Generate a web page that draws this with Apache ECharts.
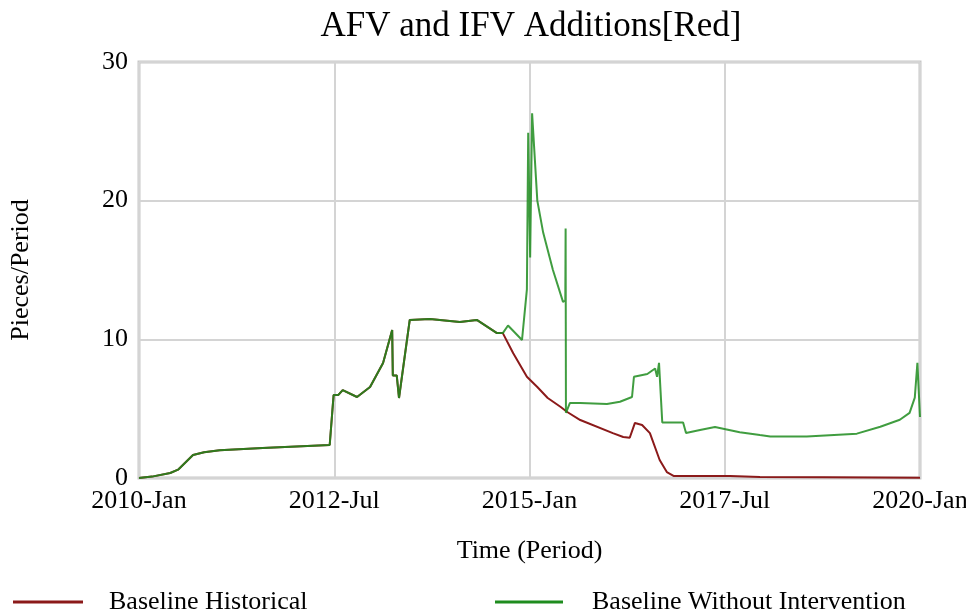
<!DOCTYPE html>
<html>
<head>
<meta charset="utf-8">
<script src="https://cdn.jsdelivr.net/npm/echarts@6/dist/echarts.min.js"></script>
<style>
  html, body { margin: 0; padding: 0; background: #fff; }
  #chart { width: 966px; height: 612px; }
</style>
</head>
<body>
<div id="chart"></div>
<script>
// months since 2010-Jan
var xTickLabels = ['2010-Jan', '2012-Jul', '2015-Jan', '2017-Jul', '2020-Jan'];

// part both runs share (until late 2014)
var sharedMonths = [0, 2, 4.8, 6, 8.3, 10, 12.4, 19, 29.3, 29.9, 30.6, 31.3, 33.5, 35.5, 37.5, 38.9, 39.0, 39.6, 39.95, 41.6, 44.7, 49.3, 51.9, 55.0, 55.9];
var sharedValues = [0, 0.1, 0.36, 0.6, 1.66, 1.85, 2.0, 2.16, 2.38, 5.98, 5.98, 6.34, 5.84, 6.56, 8.3, 10.67, 7.4, 7.4, 5.77, 11.4, 11.46, 11.25, 11.4, 10.45, 10.45];

// Baseline Historical after the split
var historicalMonths = [57.5, 59.6, 61.2, 62.8, 64.8, 65.8, 67.8, 72.8, 74.4, 75.4, 76.2, 77.3, 78.5, 80.0, 81.1, 82.2, 90.8, 95.4, 105, 120];
var historicalValues = [9.0, 7.3, 6.56, 5.77, 5.12, 4.76, 4.18, 3.24, 2.96, 2.9, 3.97, 3.82, 3.24, 1.3, 0.43, 0.14, 0.14, 0.07, 0.05, 0.02];

// Baseline Without Intervention after the split
var withoutMonths = [56.7, 58.85, 59.6, 59.8, 60.1, 60.4, 61.2, 62.1, 63.6, 65.15, 65.5, 65.55, 65.6, 66.2, 67.8, 71.9, 73.9, 75.75, 76.05, 78.1, 79.3, 79.6, 79.9, 80.4, 81.1, 83.6, 84.05, 86.2, 88.5, 90.3, 92.3, 95.4, 97, 102.6, 110.3, 113.9, 116.9, 118.4, 119.2, 119.6, 120];
var withoutValues = [11.0, 9.95, 13.6, 24.9, 15.9, 26.3, 20, 17.7, 15, 12.7, 12.8, 18.0, 4.7, 5.4, 5.4, 5.34, 5.5, 5.84, 7.3, 7.5, 7.9, 7.3, 8.3, 4.0, 4.0, 4.0, 3.25, 3.46, 3.68, 3.5, 3.3, 3.1, 3.0, 3.0, 3.2, 3.7, 4.2, 4.7, 5.8, 8.3, 4.4];

function pairs(ms, vs) {
  return ms.map(function (m, i) { return [m, vs[i]]; });
}
var historicalData = pairs(sharedMonths.concat(historicalMonths), sharedValues.concat(historicalValues));
var withoutData = pairs(sharedMonths.concat(withoutMonths), sharedValues.concat(withoutValues));

var serif = 'Liberation Serif';
var chart = echarts.init(document.getElementById('chart'));
chart.setOption({
  animation: false,
  title: {
    text: 'AFV and IFV Additions[Red]',
    left: 526,
    top: 4,
    textAlign: 'center',
    textStyle: { fontFamily: serif, fontSize: 35, fontWeight: 'normal', color: '#000' }
  },
  legend: [{
    data: ['Baseline Historical'],
    left: 8,
    top: 584,
    itemWidth: 70,
    itemHeight: 3,
    icon: 'rect',
    textStyle: { fontFamily: serif, fontSize: 26, color: '#000', padding: [0, 0, 0, 21] }
  }, {
    data: ['Baseline Without Intervention'],
    left: 490,
    top: 584,
    itemWidth: 68,
    itemHeight: 3,
    icon: 'rect',
    textStyle: { fontFamily: serif, fontSize: 26, color: '#000', padding: [0, 0, 0, 24] }
  }],
  grid: {
    left: 139, right: 46, top: 62, bottom: 134,
    outerBoundsMode: 'none',
    show: true, borderColor: '#c8c8c8', borderWidth: 3
  },
  xAxis: {
    type: 'value',
    min: 0, max: 120, interval: 30,
    name: 'Time (Period)',
    nameLocation: 'middle',
    nameGap: 60,
    nameTextStyle: { fontFamily: serif, fontSize: 26, color: '#000' },
    axisLine: { show: false },
    axisTick: { show: false },
    axisLabel: {
      fontFamily: serif, fontSize: 26, color: '#000', margin: 10,
      formatter: function (v) { return xTickLabels[Math.round(v / 30)]; }
    },
    splitLine: { lineStyle: { color: '#d4d4d4', width: 2 } }
  },
  yAxis: {
    type: 'value',
    min: 0, max: 30, interval: 10,
    name: 'Pieces/Period',
    nameLocation: 'middle',
    nameGap: 105,
    nameTextStyle: { fontFamily: serif, fontSize: 26, color: '#000' },
    axisLine: { show: false },
    axisTick: { show: false },
    axisLabel: { fontFamily: serif, fontSize: 26, color: '#000', margin: 11 },
    splitLine: { lineStyle: { color: '#d4d4d4', width: 2 } }
  },
  series: [{
    name: 'Baseline Historical',
    type: 'line',
    data: historicalData,
    showSymbol: false,
    color: '#8b1a1a',
    lineStyle: { width: 2, color: '#8b1a1a' }
  }, {
    name: 'Baseline Without Intervention',
    type: 'line',
    data: withoutData,
    showSymbol: false,
    color: '#1e8c1e',
    lineStyle: { width: 2, color: '#1e8c1e', opacity: 0.85 }
  }]
});
</script>
</body>
</html>
